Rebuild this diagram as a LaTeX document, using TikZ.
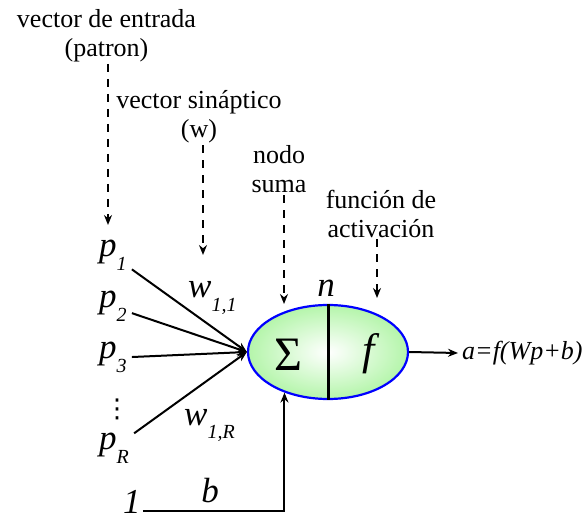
\documentclass[tikz,border=0pt]{standalone}
\usepackage{fontspec}
\setmainfont{Liberation Serif}
\newfontfamily\symfont{DejaVu Sans}
\usepackage{tikz}
\usetikzlibrary{arrows.meta,shapes.geometric}
\definecolor{sumG}{RGB}{180,245,170}
\definecolor{rimB}{RGB}{0,0,255}
\newcommand{\fsz}[1]{\fontsize{#1}{#1}\selectfont}
\newcommand{\lowsub}[1]{\raisebox{-0.4em}{\fsz{20}#1}}

\begin{document}
\begin{tikzpicture}[x=10pt, y=10pt, >={Stealth[length=10pt, width=8pt]}]
  \useasboundingbox (0,0) rectangle (58.3,52.2);
  \tikzstyle{lbl}=[font=\fontsize{26}{29}\selectfont, align=center, inner sep=2pt]
  \tikzstyle{var}=[font=\fsz{35}\itshape, inner sep=5pt]
  \tikzstyle{hint}=[->, dash pattern=on 8pt off 7pt, line width=1.6pt]
  \tikzstyle{wire}=[->, line width=2pt]

  % summing node
  \node[ellipse, draw=rimB, line width=2.2pt, inner color=white, outer color=sumG,
        minimum width=160pt, minimum height=94pt, inner sep=0pt] (sum) at (32.8,17.0) {};
  \draw[line width=3pt] (sum.north) -- (sum.south);
  \node[font=\fsz{48}] (sig) at (28.8,16.7) {Σ};
  \node[var, font=\fsz{44}\itshape] (fn) at (36.9,16.8) {f};
  \node[var] (n) at (32.6,23.4) {n};

  % inputs
  \node[var, anchor=base west] (p1) at (9.4,26.5) {p\lowsub{1}};
  \node[var, anchor=base west] (p2) at (9.4,21.4) {p\lowsub{2}};
  \node[var, anchor=base west] (p3) at (9.4,16.3) {p\lowsub{3}};
  \node[font=\symfont\fsz{26}, inner sep=0pt] (dots) at (11.7,11.3) {⋮};
  \node[var, anchor=base west] (pR) at (9.4,7.3) {p\lowsub{R}};
  \node[var, anchor=base west, inner sep=2pt] (one) at (12.1,0.9) {1};
  \node[var] (b) at (21.0,3.1) {b};
  \node[var, anchor=base west] (w11) at (18.3,22.4) {w\lowsub{1,1}};
  \node[var, anchor=base west] (w1R) at (17.9,9.7) {w\lowsub{1,R}};
  \draw[wire] (p1) -- (sum.west);
  \draw[wire] (p2) -- (sum.west);
  \draw[wire] (p3) -- (sum.west);
  \draw[wire] (pR) -- (sum.west);
  \draw[wire] (one.mid east) -| (sum.223);

  % output
  \node[font=\fsz{26}\itshape, anchor=west, inner sep=4pt] (out) at (45.8,16.9) {a=f(Wp+b)};
  \draw[wire] (sum.east) -- (out.west);

  % captions with dashed pointers
  \node[lbl] (lblin) at (10.65,48.65) {vector de entrada\\(patron)};
  \node[lbl] (lblw) at (19.9,40.55) {vector sináptico\\(w)};
  \node[lbl] (lblsum) at (27.9,35.25) {nodo\\suma};
  \node[lbl] (lblact) at (38.1,30.85) {función de\\activación};
  \coordinate (tipIn) at (10.8,29.7);
  \coordinate (tipW) at (20.3,26.7);
  \coordinate (tipSum) at (28.4,21.8);
  \coordinate (tipAct) at (37.7,22.4);
  \draw[hint] (lblin.south -| tipIn) -- (tipIn);
  \draw[hint] (lblw.south -| tipW) -- (tipW);
  \draw[hint] (lblsum.south -| tipSum) -- (tipSum);
  \draw[hint] (lblact.south -| tipAct) -- (tipAct);
\end{tikzpicture}
\end{document}
